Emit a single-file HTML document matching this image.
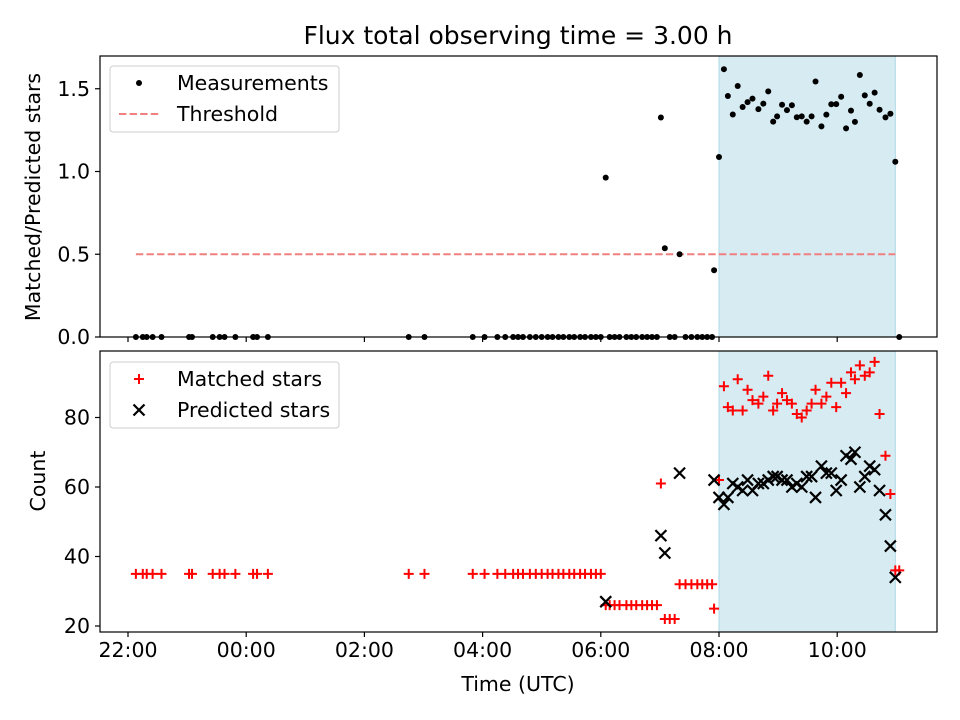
<!DOCTYPE html>
<html><head><meta charset="utf-8"><style>
html,body{margin:0;padding:0;background:#fff;}
svg{display:block;font-family:"DejaVu Sans","Liberation Sans",sans-serif;}
</style></head><body>
<svg id="chart" width="960" height="720" viewBox="0 0 960 720"></svg>
<script>
// minutes after 22:00
const times = [8,15,19,25,34,62,65,86,93,98,109,127,131,142,285,301,350,362,375,383,391,396,401,408,414,420,426,431,437,442,448,453,459,464,470,475,480,
485,489,494,499,506,511,516,522,527,532,537,541,545,550,555,560,566,572,578,583,588,593,595,
600,605,609,614,619,624,629,634,640,645,650,655,659,664,669,674,679,684,689,694,698,704,709,714,719,724,729,734,738,743,748,753,758,763,769,774,779,783];
const matched = [35,35,35,35,35,35,35,35,35,35,35,35,35,35,35,35,35,35,35,35,35,35,35,35,35,35,35,35,35,35,35,35,35,35,35,35,35,
26,26,26,26,26,26,26,26,26,26,26,61,22,22,22,32,32,32,32,32,32,32,25,
62,89,83,82,91,82,88,85,84,86,92,82,84,87,85,84,81,80,82,84,88,84,86,90,83,90,87,93,91,95,92,93,96,81,69,58,36,36];
const predicted = [null,null,null,null,null,null,null,null,null,null,null,null,null,null,null,null,null,null,null,null,null,null,null,null,null,null,null,null,null,null,null,null,null,null,null,null,null,
27,null,null,null,null,null,null,null,null,null,null,46,41,null,null,64,null,null,null,null,null,null,62,
57,55,57,61,60,59,62,59,61,61,62,63,63,62,62,60,61,60,63,63,57,66,64,64,59,62,69,68,70,60,63,66,65,59,52,43,34,null];
const xTickLabels = ["22:00","00:00","02:00","04:00","06:00","08:00","10:00"];
const xTickMinutes = [0,120,240,360,480,600,720];
const topTicks = [0,0.5,1.0,1.5];
const topTickLabels = ["0.0","0.5","1.0","1.5"];
const botTicks = [20,40,60,80];
const threshold = 0.5;
const windowStart = 600, windowEnd = 779;

const NS="http://www.w3.org/2000/svg";
const svg=document.getElementById('chart');
function el(t,a,p){const e=document.createElementNS(NS,t);for(const k in a)e.setAttribute(k,a[k]);(p||svg).appendChild(e);return e;}
const L=100,R=937,T1=56,B1=337,T2=351,B2=632;
const FS=20.5;
const X=m=>128+m*59.1/60;
const Y1=v=>337-v*165.5;
const Y2=v=>487-(v-60)*3.475;
const ratios=matched.map((m,i)=>predicted[i]?m/predicted[i]:0);

let t=el('text',{x:518,y:44,'text-anchor':'middle','font-size':'25'});t.textContent='Flux total observing time = 3.00 h';


function panel(top,bot,name){
  const g=el('g',{});
  const s=el('rect',{x:X(windowStart),y:top,width:X(windowEnd)-X(windowStart),height:bot-top,fill:'#add8e6','fill-opacity':0.5,stroke:'#add8e6'},g);
  
  return g;
}
const g1=panel(T1,B1,'top-panel');
const g2=panel(T2,B2,'bottom-panel');

let th=el('line',{x1:X(times[0]),x2:X(windowEnd),y1:Y1(threshold),y2:Y1(threshold),stroke:'#f08080','stroke-width':2,'stroke-dasharray':'7.4,3.2'},g1);

ratios.forEach((r,i)=>{const c=el('circle',{cx:X(times[i]),cy:Y1(r),r:3,fill:'#000'},g1);
});
matched.forEach((m,i)=>{const x=X(times[i]),y=Y2(m);
const p=el('path',{d:`M${x-5},${y}h10M${x},${y-5}v10`,stroke:'#f00','stroke-width':2},g2);
});
predicted.forEach((v,i)=>{if(v==null)return;const x=X(times[i]),y=Y2(v);
const p=el('path',{d:`M${x-5.5},${y-5.5}l11,11M${x-5.5},${y+5.5}l11,-11`,stroke:'#000','stroke-width':2.2},g2);
});

[[T1,B1,'top-axes-frame'],[T2,B2,'bottom-axes-frame']].forEach(([a,b,n])=>{const r=el('rect',{x:L,y:a,width:R-L,height:b-a,fill:'none',stroke:'#000','stroke-width':1.2});
});

xTickMinutes.forEach((m,i)=>{const x=X(m);
el('line',{x1:x,x2:x,y1:B1,y2:B1+5,stroke:'#000','stroke-width':1.2});
el('line',{x1:x,x2:x,y1:B2,y2:B2+5,stroke:'#000','stroke-width':1.2});
const tx=el('text',{x:x,y:B2+25,'text-anchor':'middle','font-size':FS});tx.textContent=xTickLabels[i];
});
topTicks.forEach((v,i)=>{const y=Y1(v);el('line',{x1:L-5,x2:L,y1:y,y2:y,stroke:'#000','stroke-width':1.2});
const tx=el('text',{x:L-10,y:y+7,'text-anchor':'end','font-size':FS});tx.textContent=topTickLabels[i];
});
botTicks.forEach(v=>{const y=Y2(v);el('line',{x1:L-5,x2:L,y1:y,y2:y,stroke:'#000','stroke-width':1.2});
const tx=el('text',{x:L-10,y:y+7,'text-anchor':'end','font-size':FS});tx.textContent=v;
});

t=el('text',{x:518,y:691,'text-anchor':'middle','font-size':FS});t.textContent='Time (UTC)';

t=el('text',{x:0,y:0,'text-anchor':'middle','font-size':FS,transform:'translate(40,197) rotate(-90)'});t.textContent='Matched/Predicted stars';

t=el('text',{x:0,y:0,'text-anchor':'middle','font-size':FS,transform:'translate(45,481) rotate(-90)'});t.textContent='Count';


function legend(y0,items,name){
  const g=el('g',{});
  el('rect',{x:110,y:y0,width:229,height:66,rx:3,fill:'#fff','fill-opacity':0.8,stroke:'#ccc'},g);
  items.forEach((it,i)=>{const cy=y0+17+i*31;it.draw(g,139,cy);
    const tx=el('text',{x:177,y:cy+7,'font-size':FS},g);tx.textContent=it.label;
    });
}
legend(66,[{label:'Measurements',draw:(g,x,y)=>el('circle',{cx:x,cy:y,r:3,fill:'#000'},g)},
 {label:'Threshold',draw:(g,x,y)=>el('line',{x1:x-20,x2:x+20,y1:y,y2:y,stroke:'#f08080','stroke-width':2,'stroke-dasharray':'7.4,3.2'},g)}],'top-legend');
legend(362,[{label:'Matched stars',draw:(g,x,y)=>el('path',{d:`M${x-5},${y}h10M${x},${y-5}v10`,stroke:'#f00','stroke-width':2},g)},
 {label:'Predicted stars',draw:(g,x,y)=>el('path',{d:`M${x-5.5},${y-5.5}l11,11M${x-5.5},${y+5.5}l11,-11`,stroke:'#000','stroke-width':2.2},g)}],'bottom-legend');
</script>
</body></html>
